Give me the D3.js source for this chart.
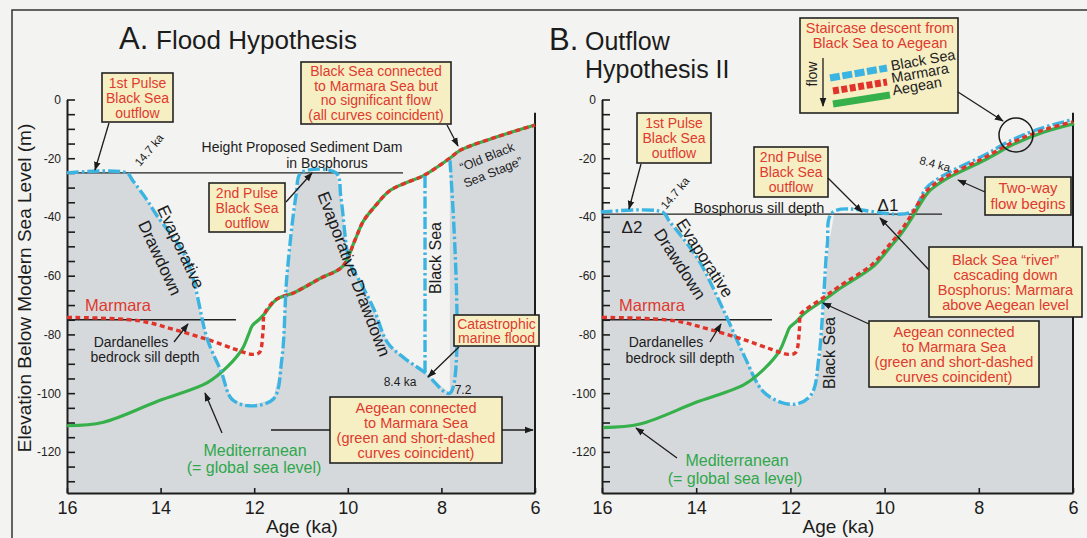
<!DOCTYPE html>
<html>
<head>
<meta charset="utf-8">
<script src="https://cdn.jsdelivr.net/npm/d3@7"></script>
<style>
  body { margin: 0; background: #f2f2f0; }
  svg text { font-family: "Liberation Sans", Arial, sans-serif; }
</style>
</head>
<body>
<svg id="chart" width="1087" height="538"></svg>
<script>
// Axis ticks
const ageTicks = [16, 14, 12, 10, 8, 6];
const depthTicks = [0, -5, -10, -15, -20, -25, -30, -35, -40, -45, -50, -55, -60, -65,
  -70, -75, -80, -85, -90, -95, -100, -105, -110, -115, -120, -125, -130];

// Shared lower parts of the curves  [age ka, elevation m]
const marmaraLow = [[16, -74.2], [14.48, -75.3], [13.74, -78.2], [13.0, -81.7], [12.4, -85.1],
  [12.04, -86.8], [11.89, -86.2], [11.81, -78.6], [11.78, -73]];
const medLow = [[16, -111.1], [15.22, -109.9], [14.04, -102.6], [13.0, -96.4], [12.56, -90.8],
  [12.26, -85.1], [12.12, -80], [12.04, -77], [11.9, -75], [11.78, -73]];

// A. Flood hypothesis
const blackSeaA = [[16, -25], [14.72, -25], [14.6, -27.5], [14.3, -34], [14.1, -39], [13.44, -54.5],
  [13.0, -81.7], [12.7, -92.9], [12.48, -102], [12.11, -104.3], [11.59, -102], [11.41, -88.5],
  [11.3, -60], [11.1, -32], [11.0, -25], [10.25, -25], [10.15, -33], [10.03, -50], [9.95, -56],
  [9.74, -62], [9.44, -71.5], [9.15, -82.8], [8.8, -88], [8.35, -93], [7.82, -100], [7.82, -20]];
const blackSeaStepA = [[8.35, -93], [8.35, -25]];
const risingA = [[11.52, -68], [11.15, -65.8], [10.6, -61], [10.11, -56.8], [9.85, -48], [9.67, -41.5],
  [9.4, -36], [9.1, -31], [8.7, -28], [8.39, -26], [7.82, -20], [7.6, -17.3], [6.81, -12.7], [6.0, -8.7]];
const damLevelA = [[16, -25], [8.82, -25]];
const dardanellesA = [[16, -75], [12.39, -75]];

// B. Outflow hypothesis II
const blackSeaB = [[16, -39], [14.69, -39], [14.55, -42], [14.3, -47], [13.9, -56], [13.39, -72.6],
  [12.94, -88.5], [12.57, -99.8], [12.19, -103.7], [11.82, -104.3], [11.52, -100.9], [11.37, -88.5],
  [11.26, -65.8], [11.19, -50], [11.07, -39], [9.42, -39]];
const risingB = [[11.67, -71.5], [11.3, -67.5], [10.95, -63.5], [10.25, -56], [9.9, -49.5], [9.74, -46.5],
  [9.58, -43], [9.42, -39], [9.1, -31], [8.85, -27.8], [8.61, -25.5], [7.9, -20], [7.27, -14.5],
  [6.67, -10.6], [6.0, -7.6]];
const bosphorusSillB = [[16, -39], [8.78, -39]];
const dardanellesB = [[16, -75], [12.39, -75]];

const CYAN = '#3bb4e2', RED = '#e2332a', GREEN = '#36b04a', TXTRED = '#de3a2e', TXTGREEN = '#2fa74a';
const BOXFILL = '#f7efc4', GRAYFILL = '#d6d9dc', INK = '#1c1c1c';

const svg = d3.select('#chart');

svg.append('defs').append('marker')
  .attr('id', 'arrow')
  .attr('viewBox', '0 0 10 10')
  .attr('refX', 9).attr('refY', 5)
  .attr('markerWidth', 9).attr('markerHeight', 9)
  .attr('markerUnits', 'userSpaceOnUse')
  .attr('orient', 'auto')
  .append('path')
  .attr('d', 'M0,1.3 L10,5 L0,8.7 z')
  .attr('fill', INK);

svg.append('rect').attr('width', 1087).attr('height', 538).attr('fill', '#f3f3f1');
svg.append('rect')
  .attr('x', 12).attr('y', 10).attr('width', 1100).attr('height', 560)
  .attr('fill', 'none').attr('stroke', '#333').attr('stroke-width', 1.5);

const y = d3.scaleLinear().domain([-134, 0]).range([493, 99.5]);
const xA = d3.scaleLinear().domain([16, 6]).range([67, 535]);
const xB = d3.scaleLinear().domain([16, 6]).range([602, 1073]);

const smooth = x => d3.line().x(d => x(d[0])).y(d => y(d[1])).curve(d3.curveCatmullRom.alpha(0.5));
const straight = x => d3.line().x(d => x(d[0])).y(d => y(d[1]));

function drawAxes(g, x) {
  const ya = g.append('g')
    .attr('transform', `translate(${x(16)},0)`)
    .call(d3.axisLeft(y).tickValues(depthTicks).tickSizeInner(-8).tickSizeOuter(0).tickPadding(6)
      .tickFormat(d => d === 0 ? '0' : (d % 20 === 0 ? '-' + (-d) : '')));
  ya.select('.domain').attr('stroke', INK).attr('stroke-width', 2);
  ya.selectAll('.tick line').attr('stroke', INK).attr('stroke-width', 1.6);
  ya.selectAll('.tick text').attr('font-size', 12).attr('fill', '#222')
    .attr('font-family', '"Liberation Sans", Arial, sans-serif');

  const xa = g.append('g')
    .attr('transform', `translate(0,${y(-134)})`)
    .call(d3.axisBottom(x).tickValues(ageTicks).tickSizeInner(-5).tickSizeOuter(0).tickPadding(8));
  xa.select('.domain').attr('stroke', INK).attr('stroke-width', 2);
  xa.selectAll('.tick line').attr('stroke', INK).attr('stroke-width', 1.6);
  xa.selectAll('.tick text').attr('font-size', 18).attr('fill', INK)
    .attr('font-family', '"Liberation Sans", Arial, sans-serif');

  // right frame line
  g.append('line')
    .attr('x1', x(6)).attr('x2', x(6))
    .attr('y1', y(-4.5)).attr('y2', y(-134))
    .attr('stroke', INK).attr('stroke-width', 2);

  g.append('text')
    .attr('x', (x(16) + x(6)) / 2 + 1).attr('y', 533)
    .attr('text-anchor', 'middle').attr('font-size', 19).attr('fill', INK)
    .text('Age (ka)');
}

function refLine(g, x, data) {
  g.append('path').attr('d', straight(x)(data))
    .attr('fill', 'none').attr('stroke', '#222').attr('stroke-width', 1.3);
}

function curve(g, x, data, color, dash, width, dx, dy) {
  g.append('path').attr('d', smooth(x)(data))
    .attr('transform', `translate(${dx || 0},${dy || 0})`)
    .attr('fill', 'none').attr('stroke', color).attr('stroke-width', width)
    .attr('stroke-dasharray', dash).attr('stroke-linejoin', 'round');
}

function box(g, b) {
  g.append('rect')
    .attr('x', b.x).attr('y', b.y).attr('width', b.w).attr('height', b.h)
    .attr('fill', BOXFILL).attr('stroke', '#222').attr('stroke-width', 1.6);
  const lh = b.lh || 15;
  const t = g.append('text').attr('text-anchor', 'middle')
    .attr('fill', TXTRED).attr('font-size', b.fs || 14);
  const y0 = b.y + b.h / 2 - (b.lines.length - 1) * lh / 2;
  b.lines.forEach((s, i) => {
    t.append('tspan').attr('x', b.x + b.w / 2).attr('y', y0 + i * lh).attr('dy', '0.36em').text(s);
  });
}

function arrow(g, x1, y1, x2, y2) {
  g.append('line')
    .attr('x1', x1).attr('y1', y1).attr('x2', x2).attr('y2', y2)
    .attr('stroke', INK).attr('stroke-width', 1.3).attr('marker-end', 'url(#arrow)');
}

function label(g, x, yy, str, opts) {
  opts = opts || {};
  const t = g.append('text')
    .attr('x', x).attr('y', yy).attr('dy', '0.35em')
    .attr('text-anchor', opts.anchor || 'middle')
    .attr('font-size', opts.fs || 14)
    .attr('fill', opts.color || INK)
    .text(str);
  if (opts.rot) t.attr('transform', `rotate(${opts.rot},${x},${yy})`);
  return t;
}

// ---------- Panel A ----------
const gA = svg.append('g');
gA.append('path')
  .attr('d', straight(xA)([...blackSeaA, ...risingA.filter(d => d[0] < 7.82), [6, -134], [16, -134]]) + 'Z')
  .attr('fill', GRAYFILL);
drawAxes(gA, xA);
refLine(gA, xA, damLevelA);
refLine(gA, xA, dardanellesA);
arrow(gA, 271, 430, 533, 430);

curve(gA, xA, [...medLow, ...risingA], GREEN, null, 3.2);
curve(gA, xA, [...marmaraLow, ...risingA], RED, '5,3.5', 3.4);
curve(gA, xA, blackSeaA, CYAN, '12,3,2.5,3', 3.4);
curve(gA, xA, blackSeaStepA, CYAN, '12,3,2.5,3', 3.4);

// titles
gA.append('text').attr('x', 119).attr('y', 49).attr('font-size', 31).attr('fill', INK).text('A.');
gA.append('text').attr('x', 156).attr('y', 49).attr('font-size', 26).attr('fill', INK).text('Flood Hypothesis');

label(gA, 24, 288, 'Elevation Below Modern Sea Level (m)', { fs: 19, rot: -90 });

box(gA, { x: 102, y: 73, w: 71, h: 49, lines: ['1st Pulse', 'Black Sea', 'outflow'] });
arrow(gA, 109, 123, 95, 170);
box(gA, { x: 301, y: 62, w: 150, h: 62, lh: 14.5,
  lines: ['Black Sea connected', 'to Marmara Sea but', 'no significant flow', '(all curves coincident)'] });
arrow(gA, 447, 125, 458, 146);
box(gA, { x: 209, y: 183, w: 76, h: 49, lines: ['2nd Pulse', 'Black Sea', 'outflow'] });
arrow(gA, 286, 202, 312, 173);
box(gA, { x: 454, y: 315, w: 85, h: 31, lh: 14, lines: ['Catastrophic', 'marine flood'] });
arrow(gA, 459, 347, 428, 377);
box(gA, { x: 330, y: 397, w: 172, h: 66, fs: 14.5,
  lines: ['Aegean connected', 'to Marmara Sea', '(green and short-dashed', 'curves coincident)'] });

label(gA, 302, 147, 'Height Proposed Sediment Dam', { fs: 14 });
label(gA, 327, 163, 'in Bosphorus', { fs: 14 });
label(gA, 149, 150, '14.7 ka', { fs: 11.5, rot: -50 });
label(gA, 181, 247, 'Evaporative', { fs: 17, rot: 65 });
label(gA, 160, 258, 'Drawdown', { fs: 17, rot: 65 });
label(gA, 354, 274, 'Evaporative Drawdown', { fs: 17, rot: 69 });
label(gA, 435, 258, 'Black Sea', { fs: 16, rot: -90 });
label(gA, 487, 157, '\u201COld Black', { fs: 12.5, rot: -22 });
label(gA, 493, 172, 'Sea Stage\u201D', { fs: 12.5, rot: -22 });
label(gA, 400, 382, '8.4 ka', { fs: 12 });
label(gA, 463, 390, '7.2', { fs: 12 });
label(gA, 118, 305, 'Marmara', { fs: 16.5, color: TXTRED });
label(gA, 131, 342, 'Dardanelles', { fs: 14 });
label(gA, 145, 357, 'bedrock sill depth', { fs: 14 });
arrow(gA, 174, 342, 188, 324);
label(gA, 255, 450, 'Mediterranean', { fs: 16, color: TXTGREEN });
label(gA, 254, 467, '(= global sea level)', { fs: 16, color: TXTGREEN });
arrow(gA, 222, 433, 205, 393);

// ---------- Panel B ----------
const gB = svg.append('g');
const cyanB = [...blackSeaB, ...risingB.filter(d => d[0] < 9.42)];
gB.append('path')
  .attr('d', straight(xB)([...cyanB, [6, -134], [16, -134]]) + 'Z')
  .attr('fill', GRAYFILL);
drawAxes(gB, xB);
refLine(gB, xB, bosphorusSillB);
refLine(gB, xB, dardanellesB);

curve(gB, xB, cyanB, CYAN, '12,3,2.5,3', 3.4, -1.2, -2);
curve(gB, xB, [...medLow, ...risingB], GREEN, null, 3.2, 1.2, 1.8);
curve(gB, xB, [...marmaraLow, ...risingB], RED, '5,3.5', 3.4);

gB.append('text').attr('x', 549).attr('y', 50).attr('font-size', 31).attr('fill', INK).text('B.');
gB.append('text').attr('x', 585).attr('y', 50).attr('font-size', 25).attr('fill', INK).text('Outflow');
gB.append('text').attr('x', 585).attr('y', 78).attr('font-size', 25).attr('fill', INK).text('Hypothesis II');

// legend box
gB.append('rect').attr('x', 800).attr('y', 18).attr('width', 158).attr('height', 95)
  .attr('fill', BOXFILL).attr('stroke', '#222').attr('stroke-width', 1.6);
label(gB, 880, 28, 'Staircase descent from', { fs: 14.5, color: TXTRED });
label(gB, 880, 43, 'Black Sea to Aegean', { fs: 14.5, color: TXTRED });
label(gB, 812, 74, 'flow', { fs: 14, rot: -90 });
arrow(gB, 823, 58, 823, 106);
gB.append('path').attr('d', 'M830,78 L887,68').attr('stroke', CYAN).attr('stroke-width', 7)
  .attr('stroke-dasharray', '10,2.5');
gB.append('path').attr('d', 'M833,91 L887,82').attr('stroke', RED).attr('stroke-width', 7)
  .attr('stroke-dasharray', '6,2.5');
gB.append('path').attr('d', 'M833,104 L890,95').attr('stroke', GREEN).attr('stroke-width', 7);
label(gB, 923, 60, 'Black Sea', { fs: 14.5, rot: -10 });
label(gB, 920, 73, 'Marmara', { fs: 14.5, rot: -10 });
label(gB, 917, 86, 'Aegean', { fs: 14.5, rot: -10 });
arrow(gB, 958, 92, 1003, 121);
gB.append('circle').attr('cx', 1016).attr('cy', 135).attr('r', 17)
  .attr('fill', 'none').attr('stroke', INK).attr('stroke-width', 1.5);

box(gB, { x: 637, y: 113, w: 74, h: 50, lines: ['1st Pulse', 'Black Sea', 'outflow'] });
arrow(gB, 641, 164, 629, 209);
box(gB, { x: 754, y: 147, w: 74, h: 50, lines: ['2nd Pulse', 'Black Sea', 'outflow'] });
arrow(gB, 828, 178, 862, 212);
box(gB, { x: 985, y: 177, w: 86, h: 38, lh: 16, fs: 15, lines: ['Two-way', 'flow begins'] });
arrow(gB, 985, 192, 958, 180);
arrow(gB, 929, 270, 880, 218);
box(gB, { x: 929, y: 247, w: 153, h: 70, fs: 14.5,
  lines: ['Black Sea \u201Criver\u201D', 'cascading down', 'Bosphorus: Marmara', 'above Aegean level'] });
arrow(gB, 869, 324, 823, 303);
box(gB, { x: 869, y: 321, w: 170, h: 66, fs: 14.5,
  lines: ['Aegean connected', 'to Marmara Sea', '(green and short-dashed', 'curves coincident)'] });

label(gB, 759, 208, 'Bosphorus sill depth', { fs: 14.5 });
label(gB, 888, 205, '\u03941', { fs: 17 });
label(gB, 632, 227, '\u03942', { fs: 17 });
label(gB, 675, 193, '14.7 ka', { fs: 11.5, rot: -50 });
label(gB, 935, 164, '8.4 ka', { fs: 11.5, rot: 15 });
label(gB, 705, 258, 'Evaporative', { fs: 17, rot: 57 });
label(gB, 680, 264, 'Drawdown', { fs: 17, rot: 57 });
label(gB, 829, 353, 'Black Sea', { fs: 16, rot: -90 });
label(gB, 652, 305, 'Marmara', { fs: 16.5, color: TXTRED });
label(gB, 666, 342, 'Dardanelles', { fs: 14 });
label(gB, 680, 358, 'bedrock sill depth', { fs: 14 });
arrow(gB, 710, 342, 721, 324);
label(gB, 737, 460, 'Mediterranean', { fs: 16, color: TXTGREEN });
label(gB, 735, 478, '(= global sea level)', { fs: 16, color: TXTGREEN });
arrow(gB, 677, 458, 636, 428);
</script>
</body>
</html>
